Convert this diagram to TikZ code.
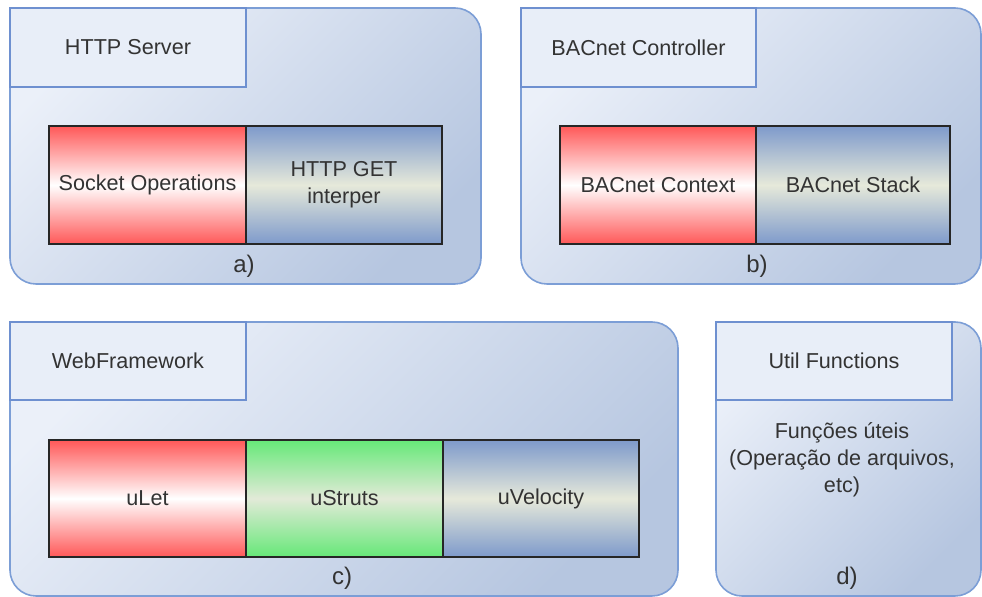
\documentclass[tikz,border=0pt]{standalone}
\usepackage{fontspec}
\setmainfont{Liberation Sans}
\begin{document}
\begin{tikzpicture}[x=0.5pt,y=-0.5pt,
  every node/.style={inner sep=0pt,outer sep=0pt,text=black!80,font=\fontsize{10.8}{13.5}\selectfont},
  panel/.style={draw=panelline,line width=0.8pt,rounded corners=13pt,
    top color=panellight,bottom color=paneldark,shading angle=45},
  tabbox/.style={draw=tabline,line width=0.8pt,fill=tabfill},
  cellbox/.style={draw=black!85,line width=1pt,minimum height=59pt,align=center},
  redcell/.style={cellbox,top color=cellred,bottom color=cellred,middle color=white},
  bluecell/.style={cellbox,top color=cellblue,bottom color=cellblue,middle color=cellbluemid},
  greencell/.style={cellbox,top color=cellgreen,bottom color=cellgreen,middle color=cellgreenmid},
  tag/.style={font=\fontsize{12}{14}\selectfont}]
\definecolor{panelline}{HTML}{7C9ED6}
\definecolor{panellight}{HTML}{EBF0F9}
\definecolor{paneldark}{HTML}{B6C6E0}
\definecolor{tabline}{HTML}{6E90D0}
\definecolor{tabfill}{HTML}{E8EEF8}
\definecolor{cellred}{HTML}{FF5858}
\definecolor{cellblue}{HTML}{7E9ACB}
\definecolor{cellbluemid}{HTML}{E6E9DA}
\definecolor{cellgreen}{HTML}{66E878}
\definecolor{cellgreenmid}{HTML}{E2EAD8}
\useasboundingbox (0,0) rectangle (982,597);

% panel a
\node[panel,minimum width=235.5pt,minimum height=138pt] (pa) at (245.5,146) {};
\node[tabbox,minimum width=118pt,minimum height=39.5pt] (ta) at (128,47.5) {HTTP Server};
\node[redcell,minimum width=98.5pt] (socket) at (147.5,185) {Socket Operations};
\node[bluecell,minimum width=98pt] (httpget) at (344,185) {HTTP GET\\interper};
\node[tag] (la) at (244,266) {a)};

% panel b
\node[panel,minimum width=230pt,minimum height=138pt] (pb) at (751,146) {};
\node[tabbox,minimum width=117.5pt,minimum height=39.5pt] (tb) at (638.5,47.5) {BACnet Controller};
\node[redcell,minimum width=98pt] (context) at (658,185) {BACnet Context};
\node[bluecell,minimum width=97pt] (stack) at (853,185) {BACnet Stack};
\node[tag] (lb) at (757,266) {b)};

% panel c
\node[panel,minimum width=334pt,minimum height=137pt] (pc) at (344,459) {};
\node[tabbox,minimum width=118pt,minimum height=39pt] (tc) at (128,361) {WebFramework};
\node[redcell,minimum width=98.5pt,minimum height=58.5pt] (ulet) at (147.5,498.5) {uLet};
\node[greencell,minimum width=98.5pt,minimum height=58.5pt] (ustruts) at (344.5,498.5) {uStruts};
\node[bluecell,minimum width=98pt,minimum height=58.5pt] (uvel) at (541,498.5) {uVelocity};
\node[tag] (lc) at (342,578) {c)};

% panel d
\node[panel,minimum width=132.5pt,minimum height=137pt] (pd) at (848.5,459) {};
\node[tabbox,minimum width=118pt,minimum height=39pt] (td) at (834,361) {Util Functions};
\node[align=center] (util) at (842,460) {Funções úteis\\(Operação de arquivos,\\etc)};
\node[tag] (ld) at (847,578) {d)};
\end{tikzpicture}
\end{document}
